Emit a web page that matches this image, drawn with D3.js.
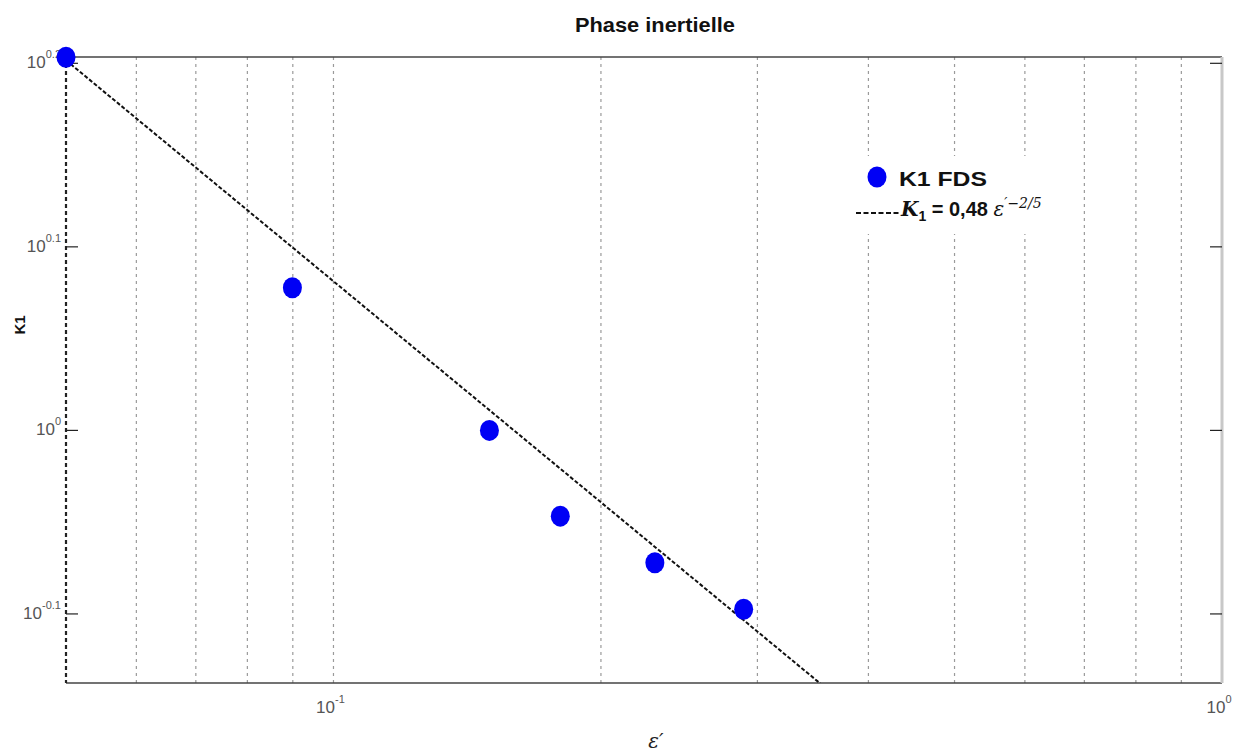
<!DOCTYPE html>
<html>
<head>
<meta charset="utf-8">
<script src="https://cdn.jsdelivr.net/npm/d3@7"></script>
<style>
  body { margin: 0; background: #fff; }
  svg { display: block; font-family: "Liberation Sans", Arial, sans-serif; }
</style>
</head>
<body>
<svg id="chart" width="1239" height="755"></svg>
<script>
// ---- data ----
const epsValues = [0.05, 0.0899, 0.1498, 0.180, 0.230, 0.2895];
const k1Values  = [1.597, 1.196, 1.0, 0.898, 0.847, 0.799];
const fitCoef = 0.48;
const fitExp = -0.4;
const xDomain = [0.05, 1];
const yDomain = [0.7284, 1.5975];
const xGridTicks = [0.06, 0.07, 0.08, 0.09, 0.1, 0.2, 0.3, 0.4, 0.5, 0.6, 0.7, 0.8, 0.9];
const xLabelTicks = [{v: 0.1, exp: "-1"}, {v: 1, exp: "0"}];
const yLabelTicks = [{v: Math.pow(10, 0.2), exp: "0.2"}, {v: Math.pow(10, 0.1), exp: "0.1"}, {v: 1, exp: "0"}, {v: Math.pow(10, -0.1), exp: "-0.1"}];
const title = "Phase inertielle";
const yLabel = "K1";
const legendLabels = ["K1 FDS"];

// ---- layout ----
const svg = d3.select("#chart");
const L = 66, R = 1222, T = 57, B = 683;
const x = d3.scaleLog().domain(xDomain).range([L, R]);
const y = d3.scaleLog().domain(yDomain).range([B, T]);

// grid (vertical dotted)
svg.append("g").selectAll("line").data(xGridTicks).join("line")
  .attr("x1", d => x(d)).attr("x2", d => x(d))
  .attr("y1", T).attr("y2", B)
  .attr("stroke", "#9a9a9a").attr("stroke-width", 1.2)
  .attr("stroke-dasharray", "3,4");

// legend background (hides grid)
svg.append("rect").attr("x", 846).attr("y", 156).attr("width", 192).attr("height", 78).attr("fill", "#fff");

// frame
svg.append("line").attr("x1", L).attr("x2", R).attr("y1", T).attr("y2", T).attr("stroke", "#444").attr("stroke-width", 1.5);
svg.append("line").attr("x1", L).attr("x2", R).attr("y1", B).attr("y2", B).attr("stroke", "#444").attr("stroke-width", 1.5);
svg.append("line").attr("x1", R).attr("x2", R).attr("y1", T).attr("y2", B).attr("stroke", "#c8c8c8").attr("stroke-width", 3);
svg.append("line").attr("x1", L).attr("x2", L).attr("y1", T).attr("y2", B).attr("stroke", "#222").attr("stroke-width", 2.2).attr("stroke-dasharray", "4,3");

// y ticks (inward, both sides)
const ytk = svg.append("g");
yLabelTicks.forEach(t => {
  const yy = y(t.v);
  ytk.append("line").attr("x1", L).attr("x2", L + 12).attr("y1", yy).attr("y2", yy).attr("stroke", "#222").attr("stroke-width", 1.2);
  ytk.append("line").attr("x1", R - 12).attr("x2", R).attr("y1", yy).attr("y2", yy).attr("stroke", "#222").attr("stroke-width", 1.2);
  const tx = ytk.append("text").attr("x", L - 5).attr("y", yy + 5).attr("text-anchor", "end")
    .attr("fill", "#555").attr("font-size", 17);
  tx.append("tspan").text("10");
  tx.append("tspan").attr("dy", -10).attr("font-size", 11).text(t.exp);
});

// x tick labels
xLabelTicks.forEach(t => {
  const xx = x(t.v);
  const tx = svg.append("text").attr("x", xx - 3).attr("y", 713).attr("text-anchor", "middle")
    .attr("fill", "#555").attr("font-size", 17);
  tx.append("tspan").text("10");
  tx.append("tspan").attr("dy", -10).attr("font-size", 11).text(t.exp);
});

// fit line (clipped)
svg.append("clipPath").attr("id", "clip").append("rect").attr("x", L).attr("y", T - 2).attr("width", R - L).attr("height", B - T + 2);
const fitX = d3.range(0, 101).map(i => Math.pow(10, Math.log10(xDomain[0]) + i / 100 * (Math.log10(xDomain[1]) - Math.log10(xDomain[0]))));
const line = d3.line().x(d => x(d)).y(d => y(fitCoef * Math.pow(d, fitExp)));
svg.append("path").datum(fitX).attr("d", line).attr("clip-path", "url(#clip)")
  .attr("fill", "none").attr("stroke", "#111").attr("stroke-width", 2).attr("stroke-dasharray", "4,2");

// points
svg.append("g").selectAll("ellipse").data(epsValues).join("ellipse")
  .attr("cx", d => x(d)).attr("cy", (d, i) => y(k1Values[i]))
  .attr("rx", 9.5).attr("ry", 10.5).attr("fill", "#0000f5");

// title
svg.append("text").attr("x", 655).attr("y", 32).attr("text-anchor", "middle")
  .attr("font-weight", "bold").attr("font-size", 21).attr("fill", "#111")
  .attr("textLength", 160).attr("lengthAdjust", "spacingAndGlyphs").text(title);

// y label
svg.append("text").attr("transform", "translate(25,325) rotate(-90)").attr("text-anchor", "middle")
  .attr("font-weight", "bold").attr("font-size", 15).attr("fill", "#111").text(yLabel);

// x label
svg.append("text").attr("x", 656).attr("y", 748).attr("text-anchor", "middle")
  .attr("font-style", "italic").attr("font-size", 20).attr("fill", "#222")
  .attr("font-family", "DejaVu Serif, serif").text("ε′");

// legend
svg.append("ellipse").attr("cx", 877).attr("cy", 177).attr("rx", 9.5).attr("ry", 10.5).attr("fill", "#0000f5");
svg.append("text").attr("x", 899).attr("y", 186).attr("font-weight", "bold").attr("font-size", 21)
  .attr("fill", "#111").attr("textLength", 88).attr("lengthAdjust", "spacingAndGlyphs").text(legendLabels[0]);
svg.append("line").attr("x1", 856).attr("x2", 900).attr("y1", 213).attr("y2", 213)
  .attr("stroke", "#111").attr("stroke-width", 2).attr("stroke-dasharray", "5,2.5");
const eq = svg.append("text").attr("x", 901).attr("y", 216).attr("fill", "#111").attr("font-size", 20);
eq.append("tspan").attr("font-family", "DejaVu Serif, serif").attr("font-style", "italic").attr("font-weight", "bold").text("K");
eq.append("tspan").attr("dy", 5).attr("font-size", 14).attr("font-weight", "bold").text("1");
eq.append("tspan").attr("dy", -5).attr("font-weight", "bold").text(" = 0,48 ");
eq.append("tspan").attr("font-family", "DejaVu Serif, serif").attr("font-style", "italic").text("ε");
eq.append("tspan").attr("dy", -8).attr("font-size", 14).attr("font-family", "DejaVu Serif, serif").attr("font-style", "italic").text("′−2/5");
</script>
</body>
</html>
